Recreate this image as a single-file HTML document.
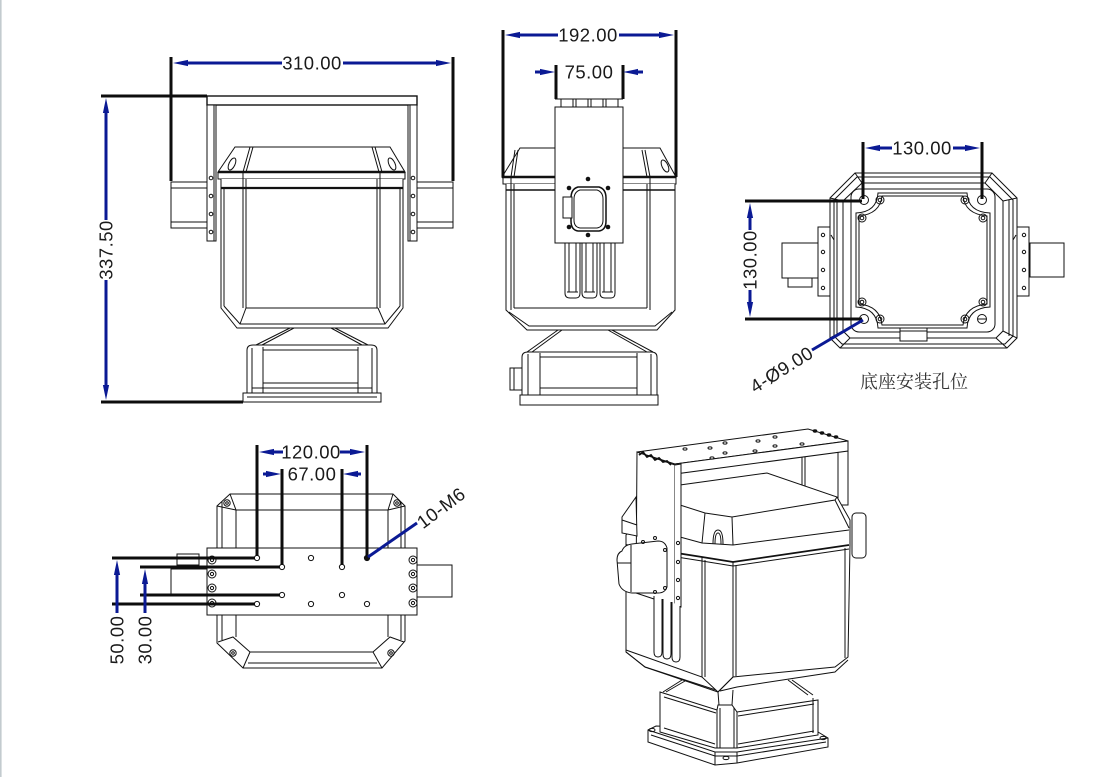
<!DOCTYPE html>
<html><head><meta charset="utf-8"><style>
html,body{margin:0;padding:0;background:#fff;}
svg{display:block;}
.t{font-family:"Liberation Sans",sans-serif;font-size:18.5px;fill:#1a1a1a;letter-spacing:0.5px;}
.cn{font-family:"Liberation Serif","Noto Serif CJK SC",serif;font-size:18px;fill:#333;}
.o{stroke:#111;fill:none;stroke-width:1;}
.w{stroke:#111;fill:#fff;stroke-width:1;}
.b{stroke:#0b1a94;stroke-width:3;fill:none;}
.e{stroke:#0d0d0d;stroke-width:3;fill:none;}
</style></head><body>
<svg width="1104" height="777" viewBox="0 0 1104 777" xmlns="http://www.w3.org/2000/svg">
<defs>
<marker id="a" viewBox="0 0 15 7" markerWidth="15" markerHeight="7" refX="0" refY="3.5" orient="auto-start-reverse" markerUnits="userSpaceOnUse"><path d="M0,0.4 L15,3.5 L0,6.6 Z" fill="#0b1a94"/></marker>
</defs>
<rect width="1104" height="777" fill="#fff"/>
<line x1="0.8" y1="0" x2="0.8" y2="777" stroke="#c3cbcf" stroke-width="1.6"/>

<!-- ================= FRONT VIEW ================= -->
<g class="o">
  <rect x="171" y="182" width="36" height="46" class="w"/>
  <line x1="171" y1="188" x2="207" y2="188"/><line x1="171" y1="222" x2="207" y2="222"/>
  <rect x="417" y="182" width="36" height="46" class="w"/>
  <line x1="417" y1="188" x2="453" y2="188"/><line x1="417" y1="222" x2="453" y2="222"/>
  <rect x="207" y="96" width="210" height="9" stroke-width="1.4"/>
  <rect x="207" y="105" width="9" height="136" class="w" stroke-width="1.3"/>
  <line x1="214" y1="105" x2="214" y2="241"/>
  <rect x="408" y="105" width="9" height="136" class="w" stroke-width="1.3"/>
  <line x1="410" y1="105" x2="410" y2="241"/>
  <circle cx="211" cy="178" r="1.8"/><circle cx="211" cy="196" r="1.8"/><circle cx="211" cy="214" r="1.8"/><circle cx="211" cy="232" r="1.8"/>
  <circle cx="413" cy="178" r="1.8"/><circle cx="413" cy="196" r="1.8"/><circle cx="413" cy="214" r="1.8"/><circle cx="413" cy="232" r="1.8"/>
  <path d="M218,172 L235,147 L390,147 L405,172 Z" class="w" stroke-width="1.6"/>
  <line x1="218" y1="172" x2="405" y2="172" stroke-width="2.6"/>
  <path d="M250,147 L243,172 M253,147 L246,172 M375,147 L382,172 M372,147 L379,172"/>
  <ellipse cx="232" cy="164" rx="3" ry="6.5" transform="rotate(25 232 164)"/>
  <ellipse cx="392" cy="164" rx="3" ry="6.5" transform="rotate(-25 392 164)"/>
  <path d="M218,172 L218,179 L405,179 L405,172"/>
  <path d="M221,179 L221,308 L237,328 L388,328 L403,308 L403,179" class="w" stroke-width="1.5"/>
  <line x1="221" y1="188" x2="403" y2="188" stroke-width="2.2"/>
  <path d="M224,188 L224,306 M400,188 L400,306"/>
  <path d="M243,172 L243,308 M246,179 L246,308 M380,172 L380,308 M377,179 L377,308"/>
  <path d="M246,308 L378,308 M224,306 L240,324 L385,324 L400,306 M246,308 L240,324 M378,308 L385,324"/>
  <path d="M290,328 L256,345 M294,328 L262,345 M335,328 L368,345 M331,328 L362,345"/>
  <path d="M247,393 L247,350 Q247,345 253,345 L371,345 Q377,345 377,350 L377,393" class="w" stroke-width="1.3"/>
  <path d="M252,348 L252,393 M263,347 L263,393 M358,347 L358,393 M372,348 L372,393 M263,350 L358,350 M263,383 L358,383 M252,388 L372,388"/>
  <rect x="243" y="393" width="138" height="9" class="w" stroke-width="1.3"/>
  <line x1="247" y1="397" x2="377" y2="397"/>
</g>
<g>
  <line class="e" x1="171" y1="57" x2="171" y2="181"/>
  <line class="e" x1="453" y1="57" x2="453" y2="181"/>
  <line class="e" x1="101" y1="96" x2="207" y2="96"/>
  <line class="e" x1="101" y1="402" x2="243" y2="402"/>
  <line class="b" x1="188" y1="63" x2="282" y2="63" marker-start="url(#a)"/>
  <line class="b" x1="343" y1="63" x2="436" y2="63" marker-end="url(#a)"/>
  <text class="t" x="312" y="69.5" text-anchor="middle">310.00</text>
  <line class="b" x1="106" y1="113" x2="106" y2="220" marker-start="url(#a)"/>
  <line class="b" x1="106" y1="280" x2="106" y2="385" marker-end="url(#a)"/>
  <text class="t" x="0" y="0" text-anchor="middle" transform="translate(112.5 250) rotate(-90)">337.50</text>
</g>

<!-- ================= SIDE VIEW ================= -->
<g class="o">
  <path d="M502,177 L520,148 L660,148 L676,177 Z" class="w" stroke-width="1.5"/>
  <line x1="502" y1="177" x2="676" y2="177" stroke-width="2.4"/>
  <path d="M515,150 L511,177 M518,150 L514,177 M645,150 L650,177 M642,150 L647,177"/>
  <ellipse cx="665" cy="166" rx="3" ry="6.5" transform="rotate(-25 665 166)"/>
  <path d="M503,177 L503,184 L676,184 L676,177"/>
  <path d="M506,184 L506,310 L527,330 L657,330 L675,310 L675,184" class="w" stroke-width="1.5"/>
  <line x1="506" y1="190" x2="675" y2="190" stroke-width="1.6"/>
  <path d="M511,177 L511,310 M514,184 L514,308 M650,177 L650,310 M647,184 L647,308 M514,308 L647,308 M509,312 L529,326 L655,326 L672,312"/>
  <path d="M558,330 L527,352 M562,330 L532,352 M612,330 L653,352 M608,330 L647,352"/>
  <path d="M522,395 L522,357 Q522,352 528,352 L651,352 Q657,352 657,357 L657,395" class="w" stroke-width="1.3"/>
  <path d="M528,354 L528,395 M540,353 L540,395 M637,353 L637,395 M651,354 L651,395 M540,357 L637,357 M540,388 L637,388"/>
  <rect x="520" y="395" width="138" height="10" class="w" stroke-width="1.3"/>
  <rect x="510" y="368" width="12" height="22" class="w"/>
  <line x1="514" y1="368" x2="514" y2="390"/>
  <path d="M565,243 L565,293 Q565,298 570,298 L576,298 Q580,298 580,293 L580,243" class="w" stroke-width="1.3"/>
  <path d="M582,243 L582,293 Q582,298 587,298 L593,298 Q597,298 597,293 L597,243" class="w" stroke-width="1.3"/>
  <path d="M600,243 L600,293 Q600,298 605,298 L611,298 Q615,298 615,293 L615,243" class="w" stroke-width="1.3"/>
  <path d="M569,243 L569,292 M576,243 L576,292 M586,243 L586,292 M593,243 L593,292 M604,243 L604,292 M611,243 L611,292 M567,292 L578,292 M584,292 L595,292 M602,292 L613,292"/>
  <rect x="555" y="107" width="68" height="136" class="w" stroke-width="1.5"/>
  <rect x="561" y="99" width="12" height="8"/><rect x="576" y="99" width="12" height="8"/><rect x="591" y="99" width="12" height="8"/><rect x="606" y="99" width="12" height="8"/>
  <line x1="555" y1="99" x2="623" y2="99"/>
  <path d="M578,187 L599,187 Q606,189 606,198 L606,221 Q606,230 599,231 L578,231 Q571,230 571,221 L571,198 Q571,189 578,187 Z" stroke-width="1.5"/>
  <path d="M580,190 L597,190 Q603,192 603,199 L603,220 Q603,227 597,228 L580,228 Q574,227 574,220 L574,199 Q574,192 580,190 Z"/>
  <rect x="563" y="197" width="9" height="21" class="w"/>
  <g fill="#111" stroke="none">
    <circle cx="569" cy="188" r="2.3"/><circle cx="608" cy="188" r="2.3"/><circle cx="569" cy="227" r="2.3"/><circle cx="608" cy="227" r="2.3"/><circle cx="588" cy="179" r="2.3"/><circle cx="588" cy="235" r="2.3"/>
  </g>
</g>
<g>
  <line class="e" x1="503" y1="30" x2="503" y2="177"/>
  <line class="e" x1="676" y1="30" x2="676" y2="177"/>
  <line class="b" x1="520" y1="35" x2="558" y2="35" marker-start="url(#a)"/>
  <line class="b" x1="619" y1="35" x2="659" y2="35" marker-end="url(#a)"/>
  <text class="t" x="588" y="41.5" text-anchor="middle">192.00</text>
  <line class="e" x1="556" y1="65" x2="556" y2="99"/>
  <line class="e" x1="623" y1="65" x2="623" y2="99"/>
  <line class="b" x1="535" y1="72" x2="540" y2="72" marker-end="url(#a)"/>
  <line class="b" x1="643" y1="72" x2="638" y2="72" marker-end="url(#a)"/>
  <text class="t" x="589" y="78.5" text-anchor="middle">75.00</text>
</g>

<!-- ================= BOTTOM VIEW ================= -->
<g class="o">
  <rect x="782" y="243" width="36" height="35" class="w"/>
  <rect x="788" y="278" width="24" height="9" class="w"/>
  <rect x="1030" y="243" width="34" height="34" class="w"/>
  <path d="M855,173 L992,173 L1017,198 L1017,338 L1007,348 L840,348 L830,338 L830,198 Z" class="w" stroke-width="1.6"/>
  <path d="M857,177 L990,177 L1013,200 L1013,336 L1005,344 L842,344 L834,336 L834,200 Z"/>
  <path d="M862,183 L985,183 L1003,201 L1003,331 L996,338 L850,338 L843,331 L843,201 Z"/>
  <path d="M855,173 L862,183 M992,173 L985,183 M1017,198 L1003,201 M830,198 L843,201 M830,338 L843,331 M840,348 L850,338 M1017,338 L1003,331 M1007,348 L996,338"/>
  <path d="M837,200 L837,336 M1009,200 L1009,336"/>
  <rect x="851" y="189" width="144" height="143" rx="8"/>
  <path d="M878,193 L967,193 Q968,212 990,213 L990,307 Q968,308 967,328 L878,328 Q877,308 856,307 L856,213 Q877,212 878,193 Z" class="w" stroke-width="1.4"/>
  <path d="M882,196 L963,196 Q965,214 987,216 L987,304 Q965,306 963,325 L882,325 Q880,306 859,304 L859,216 Q880,214 882,196 Z"/>
  <g>
    <circle cx="880" cy="200" r="4"/><circle cx="880" cy="200" r="1.8"/>
    <circle cx="965" cy="200" r="4"/><circle cx="965" cy="200" r="1.8"/>
    <circle cx="862" cy="218" r="4"/><circle cx="862" cy="218" r="1.8"/>
    <circle cx="983" cy="218" r="4"/><circle cx="983" cy="218" r="1.8"/>
    <circle cx="862" cy="302" r="4"/><circle cx="862" cy="302" r="1.8"/>
    <circle cx="983" cy="302" r="4"/><circle cx="983" cy="302" r="1.8"/>
    <circle cx="880" cy="319" r="4"/><circle cx="880" cy="319" r="1.8"/>
    <circle cx="965" cy="319" r="4"/><circle cx="965" cy="319" r="1.8"/>
    <circle cx="864" cy="200" r="4.5"/><circle cx="982" cy="200" r="4.5"/>
    <circle cx="864" cy="319" r="4.5"/><circle cx="982" cy="319" r="4.5"/>
    <line x1="978" y1="319" x2="986" y2="319"/>
  </g>
  <rect x="900" y="328" width="27" height="13" class="w"/>
  <line x1="900" y1="331" x2="927" y2="331"/>
  <rect x="818" y="227" width="12" height="69" class="w"/>
  <rect x="1017" y="227" width="12" height="69" class="w"/>
  <circle cx="823" cy="235" r="1.7"/><circle cx="823" cy="252" r="1.7"/><circle cx="823" cy="270" r="1.7"/><circle cx="823" cy="288" r="1.7"/>
  <circle cx="1024" cy="235" r="1.7"/><circle cx="1024" cy="252" r="1.7"/><circle cx="1024" cy="270" r="1.7"/><circle cx="1024" cy="288" r="1.7"/>
  <path d="M831,235 L834,240 L834,290 M1016,235 L1013,240 L1013,290"/>
</g>
<g>
  <line class="e" x1="863" y1="142" x2="863" y2="199"/>
  <line class="e" x1="982" y1="142" x2="982" y2="199"/>
  <line class="b" x1="880" y1="148" x2="892" y2="148" marker-start="url(#a)"/>
  <line class="b" x1="953" y1="148" x2="965" y2="148" marker-end="url(#a)"/>
  <text class="t" x="922" y="154.5" text-anchor="middle">130.00</text>
  <line class="e" x1="745" y1="201" x2="862" y2="201"/>
  <line class="e" x1="745" y1="319" x2="862" y2="319"/>
  <line class="b" x1="750" y1="218" x2="750" y2="230" marker-start="url(#a)"/>
  <line class="b" x1="750" y1="290" x2="750" y2="302" marker-end="url(#a)"/>
  <text class="t" x="0" y="0" text-anchor="middle" transform="translate(756.5 260) rotate(-90)">130.00</text>
  <line class="b" x1="863" y1="320" x2="812" y2="350" stroke-width="3.3"/>
  <text class="t" x="0" y="0" text-anchor="middle" transform="translate(785 375) rotate(-32)">4-Ø9.00</text>
  <text class="cn" x="860" y="388">底座安装孔位</text>
</g>

<!-- ================= TOP VIEW ================= -->
<g class="o">
  <path d="M230,494 L393,494 L405,506 L405,641 L382,668 L243,668 L217,643 L217,506 Z" class="w" stroke-width="1.5"/>
  <path d="M222,502 L222,548 M401,502 L401,548 M236,510 L388,510 M236,510 L236,548 M388,510 L388,548 M230,494 L236,510 M393,494 L388,510 M217,506 L236,510 M405,506 L388,510"/>
  <circle cx="227" cy="503" r="3.2"/><circle cx="227" cy="503" r="1.3"/>
  <circle cx="397" cy="503" r="3.2"/><circle cx="397" cy="503" r="1.3"/>
  <path d="M222,615 L222,640 M401,615 L401,640 M236,615 L236,637 M388,615 L388,637 M218,642 L233,637 L250,652 L373,652 L390,637 L404,642 M250,652 L243,668 M373,652 L382,668 M248,663 L377,663"/>
  <circle cx="233" cy="653" r="3.2"/><circle cx="233" cy="653" r="1.3"/>
  <circle cx="391" cy="653" r="3.2"/><circle cx="391" cy="653" r="1.3"/>
  <rect x="171" y="569" width="36" height="27" class="w"/>
  <rect x="177" y="554" width="22" height="11" class="w"/>
  <line x1="177" y1="558" x2="199" y2="558"/>
  <rect x="417" y="565" width="35" height="32" class="w"/>
  <rect x="207" y="548" width="210" height="67" class="w" stroke-width="1.5"/>
  <g>
    <circle cx="311" cy="558" r="2.6"/><circle cx="282" cy="567" r="2.6"/><circle cx="342" cy="567" r="2.6"/>
    <circle cx="257" cy="558" r="2.6"/><circle cx="282" cy="595" r="2.6"/><circle cx="342" cy="595" r="2.6"/>
    <circle cx="257" cy="604" r="2.6"/><circle cx="311" cy="604" r="2.6"/><circle cx="367" cy="604" r="2.6"/>
    <circle cx="367" cy="558" r="2.6" fill="#111"/>
    <circle cx="212" cy="560" r="4"/><circle cx="212" cy="560" r="1.6"/>
    <circle cx="212" cy="574" r="4"/><circle cx="212" cy="574" r="1.6"/>
    <circle cx="212" cy="588" r="4"/><circle cx="212" cy="588" r="1.6"/>
    <circle cx="212" cy="603" r="4"/><circle cx="212" cy="603" r="1.6"/>
    <circle cx="413" cy="560" r="4"/><circle cx="413" cy="560" r="1.6"/>
    <circle cx="413" cy="574" r="4"/><circle cx="413" cy="574" r="1.6"/>
    <circle cx="413" cy="588" r="4"/><circle cx="413" cy="588" r="1.6"/>
    <circle cx="413" cy="603" r="4"/><circle cx="413" cy="603" r="1.6"/>
  </g>
</g>
<g>
  <line class="e" x1="257" y1="445" x2="257" y2="556"/>
  <line class="e" x1="367" y1="445" x2="367" y2="556"/>
  <line class="e" x1="282" y1="469" x2="282" y2="565"/>
  <line class="e" x1="342" y1="469" x2="342" y2="565"/>
  <line class="b" x1="274" y1="452" x2="283" y2="452" marker-start="url(#a)"/>
  <line class="b" x1="340" y1="452" x2="350" y2="452" marker-end="url(#a)"/>
  <text class="t" x="311" y="458.5" text-anchor="middle">120.00</text>
  <line class="b" x1="263" y1="474" x2="266" y2="474" marker-end="url(#a)"/>
  <line class="b" x1="361" y1="474" x2="358" y2="474" marker-end="url(#a)"/>
  <text class="t" x="312" y="480.5" text-anchor="middle">67.00</text>
  <line class="e" x1="112" y1="558" x2="255" y2="558"/>
  <line class="e" x1="140" y1="567" x2="280" y2="567"/>
  <line class="e" x1="140" y1="595" x2="280" y2="595"/>
  <line class="e" x1="112" y1="604" x2="255" y2="604"/>
  <line class="b" x1="117" y1="575" x2="117" y2="613" marker-start="url(#a)"/>
  <line class="b" x1="145" y1="584" x2="145" y2="613" marker-start="url(#a)"/>
  <text class="t" x="0" y="0" text-anchor="middle" transform="translate(123.5 640) rotate(-90)">50.00</text>
  <text class="t" x="0" y="0" text-anchor="middle" transform="translate(151.5 640) rotate(-90)">30.00</text>
  <line class="b" x1="368" y1="557" x2="417" y2="523" stroke-width="3.3"/>
  <text class="t" x="0" y="0" text-anchor="middle" transform="translate(445 513) rotate(-37)">10-M6</text>
</g>

<!-- ================= 3D VIEW ================= -->
<g class="o">
  <path d="M648,730 L656,726 L818,732 L828,738 L828,747 L737,763 L715,765 L648,742 Z" class="w" stroke-width="1.3"/>
  <path d="M648,730 L715,752 L737,752 L828,738 M715,752 L715,765 M737,752 L737,763 M651,735 L715,756 L737,756 L826,742"/>
  <ellipse cx="652" cy="730" rx="3" ry="1.6"/><ellipse cx="823" cy="738" rx="3" ry="1.6"/><ellipse cx="726" cy="758" rx="3" ry="1.6"/>
  <path d="M660,692 L717,710 L718,705 L732,705 L737,712 L818,700 L818,735 L737,748 L715,748 L660,732 Z" class="w" stroke-width="1.3"/>
  <path d="M717,710 L717,748 M720,708 L720,748 M734,708 L734,748 M737,712 L737,748 M664,697 L716,713 M738,716 L814,704 M664,728 L715,744 M738,744 L814,731 M813,698 L813,733"/>
  <path d="M663,692 L682,680 M666,692 L685,681 M792,680 L813,695 M788,680 L808,695 M718,692 L719,705 M733,690 L732,705"/>
  <rect x="852" y="513" width="14" height="45" rx="4" class="w"/>
  <path d="M802,457 L802,492 M805,457 L805,490"/>
  <path d="M838,451 L838,505 L848,505 L848,451" class="w"/>
  <path d="M626,535 L680,485 L767,473 L837,497 L850,520 L850,545 L848,657 L835,667 L733,677 L718,692 L645,667 L626,652 Z" class="w" stroke-width="1.5"/>
  <path d="M680,505 L705,513 L732,517 L835,500 L837,497 M680,537 L702,543 L733,545 L849,530 M705,513 L702,543 M732,517 L733,545 M835,500 L849,528"/>
  <path d="M626,545 L702,557 L733,562 L849,545" stroke-width="1.8"/>
  <path d="M626,549 L702,561 L733,566 L849,549"/>
  <path d="M702,557 L702,677 M705,560 L705,677 M733,562 L733,677 M736,566 L736,676 M845,548 L845,658"/>
  <path d="M626,650 L702,677 L718,692 M626,652 L645,667 L716,690 M720,691 L737,687 L835,672 L848,660 M733,677 L718,692"/>
  <path d="M713,544 Q713,530 718,530 Q723,530 723,544" />
  <path d="M715,544 Q715,533 718,533 Q721,533 721,544" />
  <path d="M637,452 L808,429 L848,441 L675,464 Z" class="w" stroke-width="1.3"/>
  <path d="M675,464 L848,441 L848,451 L675,474 Z" class="w" stroke-width="1.3"/>
  <g>
    <ellipse cx="685" cy="449" rx="2" ry="1.1"/><ellipse cx="710" cy="448" rx="2" ry="1.1"/><ellipse cx="725" cy="443" rx="2" ry="1.1"/>
    <ellipse cx="758" cy="441" rx="2" ry="1.1"/><ellipse cx="775" cy="437" rx="2" ry="1.1"/><ellipse cx="712" cy="458" rx="2" ry="1.1"/>
    <ellipse cx="725" cy="453" rx="2" ry="1.1"/><ellipse cx="755" cy="451" rx="2" ry="1.1"/><ellipse cx="775" cy="446" rx="2" ry="1.1"/>
    <ellipse cx="802" cy="444" rx="2" ry="1.1"/>
    <ellipse cx="815" cy="431" rx="1.8" ry="1.2" fill="#111"/><ellipse cx="822" cy="433" rx="1.8" ry="1.2" fill="#111"/>
    <ellipse cx="829" cy="435" rx="1.8" ry="1.2" fill="#111"/><ellipse cx="836" cy="437" rx="1.8" ry="1.2" fill="#111"/>
  </g>
  <path d="M637,452 L675,465 L675,606 L636,593 Z" class="w" stroke-width="1.3"/>
  <path d="M675,465 L681,464 L681,607 L675,606" class="w"/>
  <path d="M639,455 L643,452 L647,457 L651,455 L655,460 L659,458 L663,462 L667,461 L671,465" stroke-width="1.8"/>
  <circle cx="678" cy="543" r="1.6"/><circle cx="678" cy="562" r="1.6"/><circle cx="678" cy="580" r="1.6"/><circle cx="678" cy="598" r="1.6"/>
  <path d="M654,596 L654,652 Q654,657 658,657 Q662,657 662,652 L662,599" class="w"/>
  <path d="M663,599 L663,654 Q663,659 667,659 Q671,659 671,654 L671,602" class="w"/>
  <path d="M672,602 L672,657 Q672,662 676,662 Q680,662 680,657 L680,606" class="w"/>
  <path d="M636,497 L622,517 L622,533 L637,536 Z" class="w"/>
  <line x1="622" y1="520" x2="637" y2="525"/>
  <path d="M622,551 Q624,545 632,544 L658,541 Q665,541 667,548 L667,587 Q665,593 658,593 L632,593 Q622,592 619,584 L617,560 Q617,553 622,551 Z" class="w" stroke-width="1.4"/>
  <path d="M631,545 L631,592 M617,563 L631,563"/>
  <circle cx="643" cy="542" r="1.5"/><circle cx="655" cy="538" r="1.5"/><circle cx="665" cy="550" r="1.5"/><circle cx="665" cy="588" r="1.5"/><circle cx="655" cy="592" r="1.5"/>
</g>
</svg>
</body></html>
